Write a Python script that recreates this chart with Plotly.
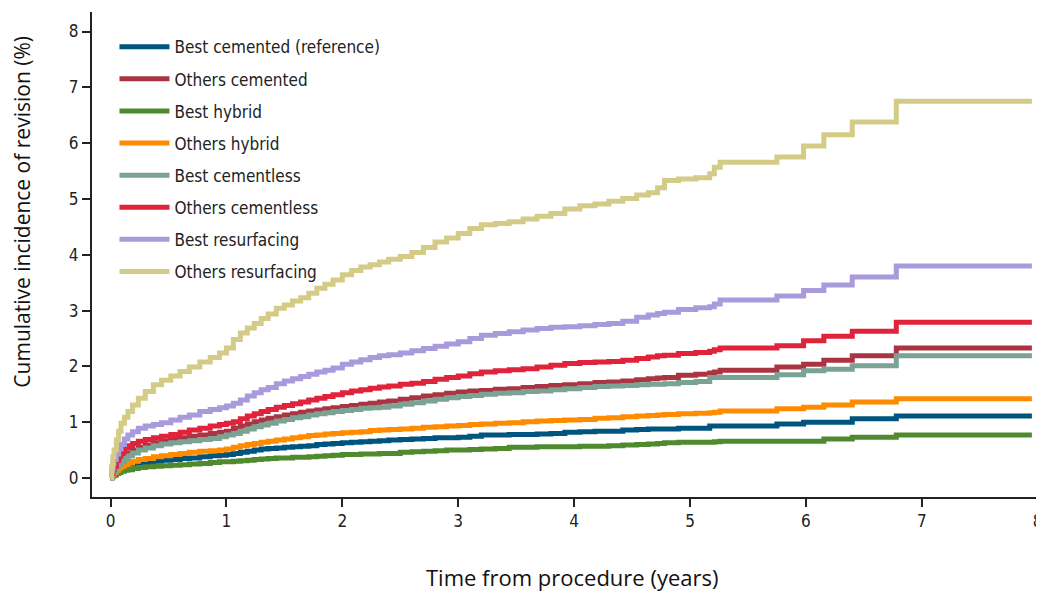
import plotly.graph_objects as go

# follow-up time (years) at which the curves are read
years = [0, 0.01, 0.02, 0.03, 0.05, 0.07, 0.09, 0.12, 0.15, 0.19,
         0.24, 0.3, 0.37, 0.44, 0.52, 0.6, 0.68, 0.77, 0.86, 0.94,
         1.0, 1.06, 1.12, 1.18, 1.24, 1.3, 1.36, 1.43, 1.5, 1.57,
         1.64, 1.71, 1.78, 1.85, 1.92, 2.0, 2.08, 2.16, 2.24, 2.32,
         2.4, 2.5, 2.6, 2.7, 2.8, 2.9, 3.0, 3.1, 3.2, 3.32,
         3.44, 3.56, 3.68, 3.8, 3.92, 4.05, 4.18, 4.3, 4.42, 4.54,
         4.64, 4.72, 4.78, 4.9, 5.05, 5.17, 5.21, 5.26, 5.75, 5.98,
         6.155, 6.4, 6.78, 7.95]

# cumulative incidence of revision (%)
best_cemented = [0, 0.03, 0.06, 0.08, 0.12, 0.15, 0.17, 0.2, 0.22, 0.24,
                 0.26, 0.28, 0.3, 0.32, 0.33, 0.35, 0.36, 0.38, 0.4, 0.41,
                 0.42, 0.44, 0.46, 0.48, 0.5, 0.52, 0.53, 0.54, 0.55, 0.56,
                 0.57, 0.58, 0.6, 0.61, 0.62, 0.63, 0.64, 0.65, 0.66, 0.67,
                 0.68, 0.69, 0.7, 0.71, 0.72, 0.72, 0.73, 0.75, 0.77, 0.77,
                 0.78, 0.78, 0.79, 0.8, 0.82, 0.83, 0.84, 0.84, 0.86, 0.87,
                 0.88, 0.88, 0.88, 0.89, 0.89, 0.93, 0.93, 0.93, 0.97, 1.0,
                 1.0, 1.06, 1.11, 1.11]
others_cemented = [0, 0.06, 0.12, 0.17, 0.25, 0.3, 0.35, 0.41, 0.45, 0.5,
                   0.55, 0.59, 0.63, 0.66, 0.69, 0.72, 0.75, 0.77, 0.8, 0.82,
                   0.84, 0.89, 0.93, 0.97, 1.01, 1.04, 1.07, 1.1, 1.13, 1.15,
                   1.18, 1.2, 1.22, 1.24, 1.26, 1.28, 1.3, 1.32, 1.34, 1.36,
                   1.38, 1.41, 1.44, 1.47, 1.49, 1.52, 1.54, 1.56, 1.57, 1.59,
                   1.6, 1.62, 1.64, 1.66, 1.67, 1.69, 1.71, 1.72, 1.74, 1.76,
                   1.78, 1.79, 1.8, 1.84, 1.86, 1.88, 1.9, 1.93, 1.99, 2.04,
                   2.11, 2.19, 2.33, 2.33]
best_hybrid = [0, 0.02, 0.04, 0.05, 0.08, 0.1, 0.12, 0.14, 0.15, 0.17,
               0.19, 0.2, 0.21, 0.22, 0.23, 0.24, 0.25, 0.26, 0.28, 0.29,
               0.29, 0.3, 0.31, 0.32, 0.33, 0.34, 0.35, 0.36, 0.36, 0.37,
               0.37, 0.38, 0.39, 0.4, 0.41, 0.42, 0.42, 0.43, 0.43, 0.44,
               0.44, 0.46, 0.47, 0.48, 0.49, 0.5, 0.5, 0.51, 0.52, 0.53,
               0.55, 0.55, 0.56, 0.56, 0.56, 0.57, 0.57, 0.58, 0.59, 0.6,
               0.61, 0.62, 0.63, 0.64, 0.64, 0.64, 0.65, 0.66, 0.66, 0.66,
               0.7, 0.73, 0.77, 0.77]
others_hybrid = [0, 0.04, 0.07, 0.1, 0.14, 0.18, 0.21, 0.24, 0.27, 0.3,
                 0.33, 0.35, 0.38, 0.4, 0.42, 0.44, 0.46, 0.48, 0.49, 0.5,
                 0.52, 0.55, 0.58, 0.6, 0.62, 0.64, 0.66, 0.68, 0.7, 0.72,
                 0.74, 0.76, 0.77, 0.79, 0.8, 0.81, 0.82, 0.83, 0.85, 0.86,
                 0.87, 0.88, 0.89, 0.91, 0.92, 0.93, 0.94, 0.96, 0.97, 0.98,
                 0.99, 1.01, 1.02, 1.03, 1.04, 1.05, 1.07, 1.08, 1.1, 1.11,
                 1.12, 1.13, 1.14, 1.15, 1.16, 1.17, 1.18, 1.2, 1.24, 1.27,
                 1.31, 1.36, 1.42, 1.42]
best_cementless = [0, 0.05, 0.1, 0.14, 0.2, 0.25, 0.29, 0.35, 0.4, 0.45,
                   0.5, 0.54, 0.58, 0.61, 0.63, 0.65, 0.67, 0.69, 0.71, 0.74,
                   0.77, 0.8, 0.84, 0.88, 0.92, 0.95, 0.98, 1.02, 1.05, 1.08,
                   1.1, 1.13, 1.15, 1.17, 1.19, 1.21, 1.23, 1.25, 1.26, 1.27,
                   1.29, 1.32, 1.35, 1.38, 1.41, 1.44, 1.46, 1.48, 1.5, 1.52,
                   1.53, 1.55, 1.56, 1.58, 1.6, 1.62, 1.64, 1.65, 1.66, 1.67,
                   1.68, 1.68, 1.69, 1.71, 1.73, 1.8, 1.8, 1.8, 1.85, 1.92,
                   1.95, 2.01, 2.19, 2.19]
others_cementless = [0, 0.08, 0.15, 0.21, 0.32, 0.4, 0.47, 0.54, 0.58, 0.62,
                     0.66, 0.69, 0.72, 0.75, 0.78, 0.82, 0.86, 0.89, 0.93, 0.96,
                     0.98, 1.01, 1.06, 1.11, 1.15, 1.19, 1.23, 1.27, 1.3, 1.33,
                     1.36, 1.4, 1.43, 1.46, 1.49, 1.53, 1.56, 1.58, 1.61, 1.63,
                     1.65, 1.68, 1.7, 1.73, 1.77, 1.8, 1.83, 1.87, 1.9, 1.92,
                     1.94, 1.96, 1.99, 2.02, 2.05, 2.07, 2.08, 2.09, 2.11, 2.14,
                     2.17, 2.19, 2.2, 2.23, 2.25, 2.27, 2.3, 2.33, 2.37, 2.46,
                     2.54, 2.63, 2.79, 2.79]
best_resurfacing = [0, 0.14, 0.26, 0.33, 0.43, 0.52, 0.6, 0.7, 0.77, 0.83,
                    0.89, 0.93, 0.96, 0.99, 1.04, 1.09, 1.13, 1.19, 1.23, 1.26,
                    1.29, 1.34, 1.4, 1.47, 1.53, 1.58, 1.62, 1.69, 1.74, 1.78,
                    1.82, 1.86, 1.9, 1.93, 1.97, 2.04, 2.08, 2.12, 2.16, 2.19,
                    2.21, 2.24, 2.28, 2.32, 2.36, 2.4, 2.44, 2.5, 2.56, 2.59,
                    2.62, 2.65, 2.68, 2.7, 2.71, 2.73, 2.75, 2.77, 2.81, 2.88,
                    2.92, 2.95, 2.97, 3.02, 3.05, 3.07, 3.12, 3.19, 3.26, 3.36,
                    3.46, 3.6, 3.8, 3.8]
others_resurfacing = [0, 0.2, 0.38, 0.5, 0.68, 0.84, 0.98, 1.09, 1.19, 1.31,
                      1.43, 1.55, 1.67, 1.75, 1.83, 1.91, 1.99, 2.08, 2.16, 2.24,
                      2.33, 2.48, 2.6, 2.69, 2.77, 2.86, 2.94, 3.04, 3.1, 3.17,
                      3.23, 3.31, 3.4, 3.47, 3.55, 3.64, 3.72, 3.78, 3.82, 3.87,
                      3.92, 3.97, 4.04, 4.13, 4.23, 4.3, 4.38, 4.47, 4.54, 4.56,
                      4.59, 4.64, 4.69, 4.74, 4.82, 4.88, 4.91, 4.96, 5.01, 5.07,
                      5.11, 5.2, 5.33, 5.36, 5.38, 5.45, 5.57, 5.66, 5.75, 5.95,
                      6.15, 6.38, 6.75, 6.75]

names = ["Best cemented (reference)", "Others cemented", "Best hybrid", "Others hybrid",
         "Best cementless", "Others cementless", "Best resurfacing", "Others resurfacing"]
series = [best_cemented, others_cemented, best_hybrid, others_hybrid,
          best_cementless, others_cementless, best_resurfacing, others_resurfacing]
colors = ["#00557f", "#ab3443", "#4f8a2e", "#ff8c00",
          "#7aa393", "#e0233a", "#a89adb", "#d4cc86"]

tick_font = dict(family="Liberation Sans Narrow, DejaVu Sans Condensed, sans-serif", size=17, color="#222")

fig = go.Figure()
for name, vals, col in zip(names, series, colors):
    fig.add_trace(go.Scatter(x=years, y=vals, name=name, mode="lines",
                             line=dict(color=col, width=5, shape="hv"),
                             legendgroup=name))

axis_style = dict(tickvals=list(range(9)), ticks="outside", ticklen=8, tickwidth=1.5,
                  tickcolor="#222", showline=True, linecolor="#222", linewidth=2,
                  showgrid=False, zeroline=False, tickfont=tick_font, automargin=False)
fig.update_xaxes(range=[-0.16, 8.02], **axis_style)
fig.update_yaxes(range=[-0.34, 8.35], **axis_style)

# page body adds an 8px margin, so the figure is 8px smaller than the window
fig.update_layout(
    width=1036, height=583,
    margin=dict(l=84, r=4, t=4, b=94),
    plot_bgcolor="white", paper_bgcolor="white",
    showlegend=True,
    legend=dict(x=0.0237, y=0.9645, xanchor="left", yanchor="top",
                font=dict(family="Liberation Sans Narrow, DejaVu Sans Condensed, sans-serif",
                          size=17, color="#222"),
                tracegroupgap=7, itemwidth=50, bgcolor="rgba(0,0,0,0)"),
    annotations=[
        dict(text="Cumulative incidence of revision (%)", xref="paper", yref="paper",
             x=-0.074, y=0.588, textangle=-90, showarrow=False, xanchor="center", yanchor="middle",
             font=dict(family="Open Sans, sans-serif", size=21, color="#111")),
        dict(text="Time from procedure (years)", xref="paper", yref="paper",
             x=0.506, y=-0.165, showarrow=False, xanchor="center", yanchor="middle",
             font=dict(family="Open Sans, sans-serif", size=22, color="#111")),
    ],
)

fig.write_html("out.html")
